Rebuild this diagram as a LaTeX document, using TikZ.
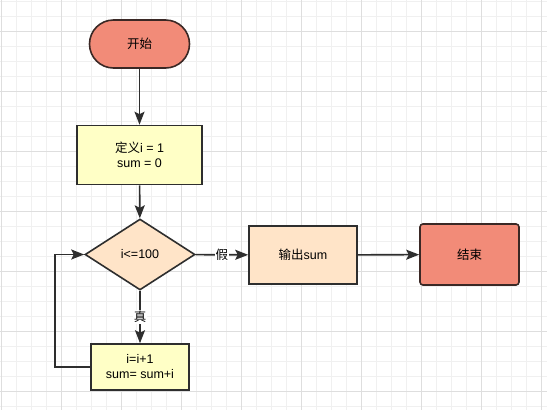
\documentclass[tikz,border=0pt]{standalone}
\usepackage{fontspec}
\setmainfont{Liberation Sans}
\newfontfamily\cjk{Noto Sans CJK SC}
\usetikzlibrary{shapes.geometric,arrows.meta}
\definecolor{termfill}{HTML}{F28B78}
\definecolor{termline}{HTML}{3A2825}
\definecolor{procfill}{HTML}{FFFFC6}
\definecolor{peach}{HTML}{FFE4C8}
\definecolor{ink}{HTML}{2E2E2E}
\definecolor{gridminor}{HTML}{F0F0F0}
\definecolor{gridmajor}{HTML}{DEDEDE}
\tikzset{
  minorline/.style={draw=gridminor,line width=0.8pt},
  majorline/.style={draw=gridmajor,line width=0.8pt},
  termbox/.style={draw=termline,fill=termfill,line width=1.6pt,inner sep=0pt,font=\fontsize{12.5}{14}\selectfont},
  procbox/.style={draw=ink,fill=procfill,line width=1.6pt,inner sep=0pt,align=center,font=\fontsize{12.5}{15}\selectfont},
  decbox/.style={diamond,draw=ink,fill=peach,line width=1.6pt,inner sep=0pt,font=\fontsize{12.5}{14}\selectfont},
  conn/.style={draw=ink,line width=1.6pt,-{Stealth[length=13pt,width=10pt,inset=2.5pt]}},
  edgelabel/.style={fill=white,inner sep=1pt,font=\fontsize{12.5}{14}\selectfont\cjk}
}
\begin{document}
\begin{tikzpicture}[x=1pt,y=-1pt]
\useasboundingbox (0,0) rectangle (547,410);
\fill[white] (0,0) rectangle (547,410);
\foreach \x in {1,16,...,546} \draw[minorline] (\x,0) -- (\x,410);
\foreach \y in {1,16,...,409} \draw[minorline] (0,\y) -- (547,\y);
\foreach \x in {1,61,...,546} \draw[majorline] (\x,0) -- (\x,410);
\foreach \y in {31,91,...,409} \draw[majorline] (0,\y) -- (547,\y);

\node[termbox,rounded corners=24pt,minimum width=100pt,minimum height=48pt] (start) at (139.5,44) {\cjk 开始};
\node[procbox,minimum width=125pt,minimum height=59pt] (init) at (139.5,155) {{\cjk 定义}i = 1\\sum = 0};
\node[decbox,minimum width=110pt,minimum height=71pt] (cond) at (140,254.5) {i<=100};
\node[procbox,fill=peach,minimum width=108pt,minimum height=58pt] (out) at (303,255) {{\cjk 输出}sum};
\node[termbox,rounded corners=3pt,minimum width=99pt,minimum height=61pt] (end) at (469.5,254.5) {\cjk 结束};
\node[procbox,minimum width=98pt,minimum height=46pt] (inc) at (140,367) {i=i+1\\sum= sum+i};
\coordinate (lp) at (55,367);

\draw[conn] (start) -- (init);
\draw[conn] (init) -- (cond);
\draw[conn] (cond) -- node[edgelabel] {假} (out);
\draw[conn] (out) -- (end);
\draw[conn] (cond) -- node[edgelabel] {真} (inc);
\draw[conn] (inc.west) -- (lp) |- (cond.west);
\end{tikzpicture}
\end{document}
